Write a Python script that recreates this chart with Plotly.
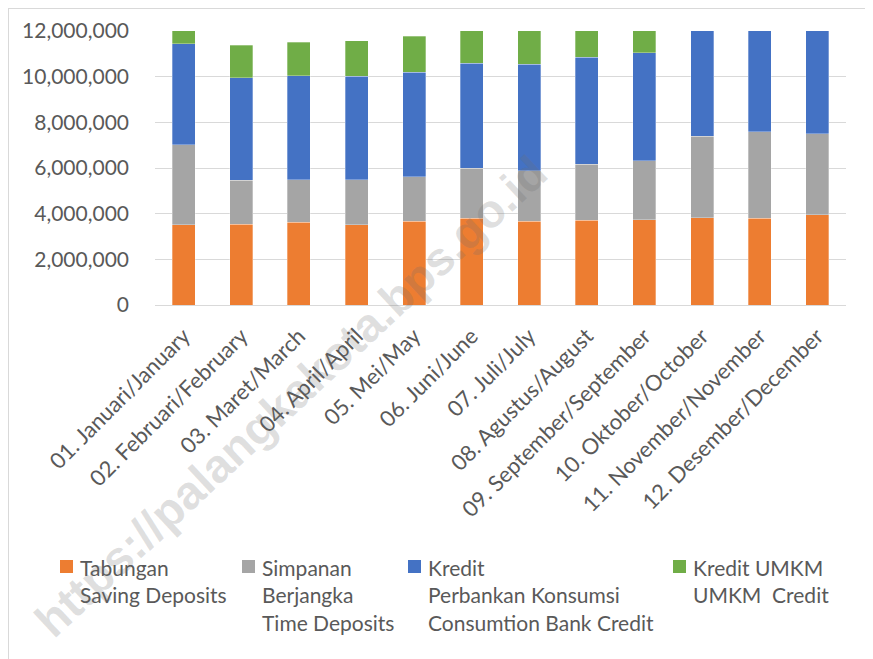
import plotly.graph_objects as go

months = ["01. Januari/January", "02. Februari/February", "03. Maret/March", "04. April/April",
          "05. Mei/May", "06. Juni/June", "07. Juli/July", "08. Agustus/August",
          "09. September/September", "10. Oktober/October", "11. November/November",
          "12. Desember/December"]

tabungan = [3510000, 3540000, 3630000, 3510000, 3670000, 3800000, 3670000, 3720000,
            3730000, 3830000, 3800000, 3960000]
simpanan = [3510000, 1930000, 1860000, 1980000, 1950000, 2200000, 2210000, 2450000,
            2590000, 3560000, 3780000, 3530000]
kredit = [4420000, 4480000, 4560000, 4530000, 4580000, 4590000, 4670000, 4690000,
          4730000, 4800000, 4850000, 4900000]
umkm = [1400000, 1420000, 1450000, 1560000, 1560000, 1600000, 1620000, 1650000,
        1680000, 1700000, 1720000, 1750000]

series_names = ["Tabungan<br>Saving Deposits", "Simpanan<br>Berjangka<br>Time Deposits",
                "Kredit<br>Perbankan Konsumsi<br>Consumtion Bank Credit", "Kredit UMKM<br>UMKM  Credit"]
colors = ["#ED7D31", "#A5A5A5", "#4472C4", "#70AD47"]

# page has an 8px body margin: work in window pixels, convert to figure pixels
OFF = 8
W, H = 873 - OFF, 659 - OFF
PL, PR, PT, PB = 155, 846, 31, 305          # plot area in window pixels
L, T = PL - OFF, PT - OFF
R, B = W - (PR - OFF), H - (PB - OFF)
PW, PH = PR - PL, PB - PT
FONT = "Lato"
TXT = "#595959"

def px(x):
    return (x - PL) / PW

def py(y):
    return (PB - y) / PH

fig = go.Figure()
for vals, name, col in zip([tabungan, simpanan, kredit, umkm], series_names, colors):
    fig.add_trace(go.Bar(x=months, y=vals, name=name,
                         marker=dict(color=col, line=dict(width=0.6, color="rgba(255,255,255,0.5)")),
                         showlegend=False))

fig.update_layout(
    barmode="stack",
    bargap=0.6,
    width=W, height=H,
    margin=dict(l=L, r=R, t=T, b=B, autoexpand=False),
    paper_bgcolor="white",
    plot_bgcolor="white",
    font=dict(family=FONT, size=20, color=TXT),
    xaxis=dict(tickangle=-45, showgrid=False, showline=False, ticks="", ticklabelstandoff=13,
               tickfont=dict(size=22, color=TXT)),
    yaxis=dict(range=[0, 12000000], dtick=2000000, tickformat=",d", showgrid=True, gridcolor="#D9D9D9",
               gridwidth=1, zeroline=True, zerolinecolor="#D9D9D9", zerolinewidth=1,
               showline=False, ticks="", ticklabelstandoff=25, tickfont=dict(size=21, color=TXT)),
)

# chart frame (left and top edges)
fig.add_shape(type="line", xref="paper", yref="paper", x0=0 - L / PW, x1=0 - L / PW,
              y0=py(659), y1=1 + T / PH, line=dict(color="#D9D9D9", width=2))
fig.add_shape(type="line", xref="paper", yref="paper", x0=0 - L / PW, x1=1 + R / PW,
              y0=1 + T / PH, y1=1 + T / PH, line=dict(color="#D9D9D9", width=2))

# manual legend
leg_x = [60, 242, 408, 673]
for x0, name, col in zip(leg_x, series_names, colors):
    fig.add_shape(type="rect", xref="paper", yref="paper", x0=px(x0), x1=px(x0 + 13),
                  y0=py(573), y1=py(560), fillcolor=col, line=dict(width=0))
    fig.add_annotation(x=px(x0 + 18), y=py(553), xref="paper", yref="paper", text=name,
                       showarrow=False, xanchor="left", yanchor="top", align="left",
                       font=dict(family=FONT, size=21, color=TXT))

# watermark
fig.add_annotation(x=px(290), y=py(396), xref="paper", yref="paper",
                   text="<b>https://palangkakota.bps.go.id</b>", showarrow=False, textangle=-43,
                   xanchor="center", yanchor="middle",
                   font=dict(family="Liberation Sans", size=47, color="rgba(110,110,110,0.22)"))

fig.write_html("out.html")
